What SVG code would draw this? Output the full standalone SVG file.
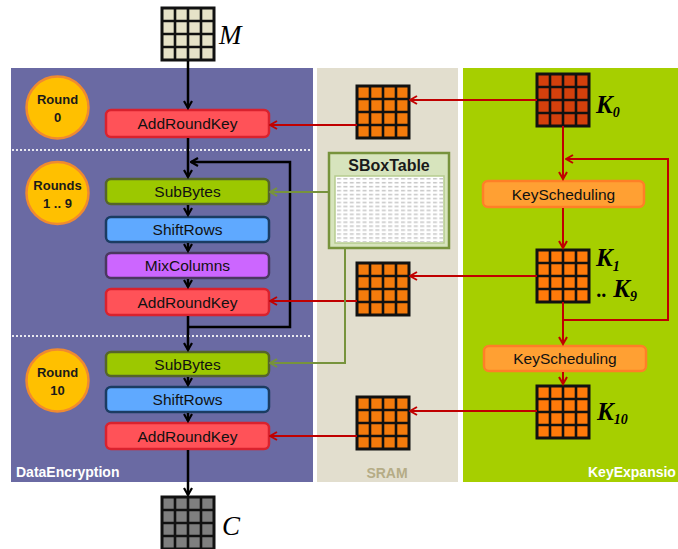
<svg xmlns="http://www.w3.org/2000/svg" width="678" height="549" viewBox="0 0 678 549">
<style>
.box{stroke-width:2.5}
.ark{fill:#FF5258;stroke:#D9222E}
.sub{fill:#9CC800;stroke:#55652A}
.shr{fill:#5FA9FF;stroke:#1B3C62}
.mix{fill:#CC66FF;stroke:#4A3860}
.ks{fill:#FFA033;stroke:#FF7F27}
.lbl{font-family:"Liberation Sans",Arial,sans-serif;font-size:15.5px;fill:#111;text-anchor:middle}
.rnd{fill:#FFC000;stroke:#F08A30;stroke-width:2.5}
.rt{font-family:"Liberation Sans",Arial,sans-serif;font-size:13px;font-weight:bold;fill:#1a1a1a;text-anchor:middle}
.blk{stroke:#000;stroke-width:2.5;fill:none}
.red{stroke:#C00000;stroke-width:2;fill:none}
.grn{stroke:#77933C;stroke-width:2;fill:none}
.dot{stroke:#E8E8F0;stroke-width:2;stroke-dasharray:2 2}
.kl{font-family:"Liberation Serif","Times New Roman",serif;font-style:italic;font-weight:bold;font-size:25px;fill:#000}
.ml{font-family:"Liberation Serif","Times New Roman",serif;font-style:italic;font-size:27px;fill:#000}
.pt{font-family:"Liberation Sans",Arial,sans-serif;font-size:14px;font-weight:bold}
</style>
<defs>
<marker id="ab" viewBox="0 0 10 10" refX="8.5" refY="5" markerWidth="10" markerHeight="10" markerUnits="userSpaceOnUse" orient="auto"><path d="M1.5,1 L8.5,5 L1.5,9" fill="none" stroke="#000" stroke-width="2.2"/></marker>
<marker id="ar" viewBox="0 0 10 10" refX="8.5" refY="5" markerWidth="10" markerHeight="10" markerUnits="userSpaceOnUse" orient="auto"><path d="M1.5,1 L8.5,5 L1.5,9" fill="none" stroke="#C00000" stroke-width="2"/></marker>
<marker id="ag" viewBox="0 0 10 10" refX="8.5" refY="5" markerWidth="10" markerHeight="10" markerUnits="userSpaceOnUse" orient="auto"><path d="M1.5,1 L8.5,5 L1.5,9" fill="none" stroke="#77933C" stroke-width="2"/></marker>
<g id="grid"><path d="M13 0V52M26 0V52M39 0V52M0 13H52M0 26H52M0 39H52" stroke="#111" stroke-width="2.6" fill="none"/><rect x="0" y="0" width="52" height="52" fill="none" stroke="#111" stroke-width="3"/></g>
<pattern id="hex" x="336" y="177" width="6.4" height="3.95" patternUnits="userSpaceOnUse"><rect x="1" y="1.2" width="4" height="1.2" fill="#B8B8B8"/></pattern>
</defs>

<g id="panels">
<rect x="11" y="68" width="302" height="414" fill="#6A6AA3"/>
<rect x="317" y="68" width="141" height="414" fill="#E2DECE"/>
<rect x="463" y="68" width="215" height="414" fill="#A6CF00"/>
<line class="dot" x1="12" y1="150" x2="312" y2="150"/>
<line class="dot" x1="12" y1="336" x2="312" y2="336"/>
<text class="pt" x="16" y="477" fill="#FFFFFF">DataEncryption</text>
<text class="pt" x="387" y="478" fill="#B5AC86" text-anchor="middle">SRAM</text>
<text class="pt" x="588" y="477" fill="#FFFFFF">KeyExpansio</text>
</g>

<g id="M">
<rect x="162" y="8" width="52" height="52" fill="#E6E2C8"/>
<use href="#grid" x="162" y="8"/>
<text class="ml" x="219" y="44">M</text>
</g>
<g id="C">
<rect x="162" y="497" width="52" height="52" fill="#7F7F7F"/>
<use href="#grid" x="162" y="497"/>
<text class="ml" x="222" y="535">C</text>
</g>

<g id="round0"><circle class="rnd" cx="57.5" cy="107.5" r="31"/><text class="rt" x="57.5" y="104">Round</text><text class="rt" x="57.5" y="122">0</text></g>
<g id="round19"><circle class="rnd" cx="57.5" cy="193" r="31"/><text class="rt" x="57.5" y="190">Rounds</text><text class="rt" x="57.5" y="208">1 .. 9</text></g>
<g id="round10"><circle class="rnd" cx="57.5" cy="380.5" r="31"/><text class="rt" x="57.5" y="377">Round</text><text class="rt" x="57.5" y="395">10</text></g>

<g id="ark0"><rect class="box ark" x="106" y="110" width="163" height="27" rx="5"/><text class="lbl" x="187.5" y="129">AddRoundKey</text></g>
<g id="sub1"><rect class="box sub" x="106" y="179" width="163" height="25" rx="5"/><text class="lbl" x="187.5" y="197">SubBytes</text></g>
<g id="shr1"><rect class="box shr" x="106" y="217" width="163" height="25" rx="5"/><text class="lbl" x="187.5" y="235">ShiftRows</text></g>
<g id="mix1"><rect class="box mix" x="106" y="253" width="163" height="25" rx="5"/><text class="lbl" x="187.5" y="271">MixColumns</text></g>
<g id="ark1"><rect class="box ark" x="106" y="289" width="163" height="26" rx="5"/><text class="lbl" x="187.5" y="307.5">AddRoundKey</text></g>
<g id="sub2"><rect class="box sub" x="106" y="352" width="163" height="24" rx="5"/><text class="lbl" x="187.5" y="369.5">SubBytes</text></g>
<g id="shr2"><rect class="box shr" x="106" y="387" width="163" height="25" rx="5"/><text class="lbl" x="187.5" y="405">ShiftRows</text></g>
<g id="ark2"><rect class="box ark" x="106" y="423" width="163" height="26" rx="5"/><text class="lbl" x="187.5" y="441.5">AddRoundKey</text></g>

<g id="sbox">
<rect x="329" y="153" width="120" height="95" fill="#D7E4BD" stroke="#77933C" stroke-width="2.5"/>
<text x="389" y="171" font-family="'Liberation Sans',Arial,sans-serif" font-size="16" font-weight="bold" fill="#1a1a1a" text-anchor="middle">SBoxTable</text>
<rect x="335" y="176" width="109" height="67" fill="#FFFFFF" stroke="#B6CC8E" stroke-width="1.5"/>
<rect x="336" y="177" width="107" height="65" fill="url(#hex)"/>
</g>

<g id="sram0"><rect x="357" y="86" width="52" height="52" fill="#F47B0C"/><use href="#grid" x="357" y="86"/></g>
<g id="sram1"><rect x="357" y="263" width="52" height="52" fill="#F47B0C"/><use href="#grid" x="357" y="263"/></g>
<g id="sram2"><rect x="357" y="397" width="52" height="52" fill="#F47B0C"/><use href="#grid" x="357" y="397"/></g>

<g id="k0"><rect x="537" y="74" width="52" height="52" fill="#D4400C"/><use href="#grid" x="537" y="74"/>
<text class="kl" x="596" y="113">K<tspan font-size="14" dy="4">0</tspan></text></g>
<g id="k1"><rect x="537" y="250" width="52" height="52" fill="#FF7A0A"/><use href="#grid" x="537" y="250"/>
<text class="kl" x="596" y="266">K<tspan font-size="14" dy="5">1</tspan></text>
<text class="kl" x="597" y="297"><tspan font-size="20">..</tspan> K<tspan font-size="14" dy="4">9</tspan></text></g>
<g id="k10"><rect x="537" y="386" width="52" height="52" fill="#FF7A0A"/><use href="#grid" x="537" y="386"/>
<text class="kl" x="597" y="420">K<tspan font-size="14" dy="4">10</tspan></text></g>

<g id="ks1"><rect class="box ks" x="483" y="181" width="161" height="26" rx="5"/><text class="lbl" x="563.5" y="199.5">KeyScheduling</text></g>
<g id="ks2"><rect class="box ks" x="484" y="346" width="162" height="25" rx="5"/><text class="lbl" x="565" y="364">KeyScheduling</text></g>

<g id="connectors">
<line class="blk" x1="188" y1="61" x2="188" y2="108" marker-end="url(#ab)"/>
<line class="blk" x1="188" y1="138" x2="188" y2="177" marker-end="url(#ab)"/>
<line class="blk" x1="188" y1="205" x2="188" y2="215" marker-end="url(#ab)"/>
<line class="blk" x1="188" y1="243" x2="188" y2="251" marker-end="url(#ab)"/>
<line class="blk" x1="188" y1="279" x2="188" y2="287" marker-end="url(#ab)"/>
<line class="blk" x1="188" y1="316" x2="188" y2="350" marker-end="url(#ab)"/>
<polyline class="blk" points="188,327 290,327 290,162 191,162" marker-end="url(#ab)"/>
<line class="blk" x1="188" y1="377" x2="188" y2="385" marker-end="url(#ab)"/>
<line class="blk" x1="188" y1="413" x2="188" y2="421" marker-end="url(#ab)"/>
<line class="blk" x1="188" y1="450" x2="188" y2="495" marker-end="url(#ab)"/>

<line class="red" x1="537" y1="100" x2="410" y2="100" marker-end="url(#ar)"/>
<line class="red" x1="357" y1="125" x2="270" y2="125" marker-end="url(#ar)"/>
<line class="red" x1="537" y1="276" x2="410" y2="276" marker-end="url(#ar)"/>
<line class="red" x1="357" y1="301" x2="270" y2="301" marker-end="url(#ar)"/>
<line class="red" x1="537" y1="411" x2="410" y2="411" marker-end="url(#ar)"/>
<line class="red" x1="357" y1="436" x2="270" y2="436" marker-end="url(#ar)"/>

<line class="red" x1="563" y1="126" x2="563" y2="179" marker-end="url(#ar)"/>
<line class="red" x1="563" y1="208" x2="563" y2="248" marker-end="url(#ar)"/>
<polyline class="red" points="563,320 668,320 668,159 566,159" marker-end="url(#ar)"/>
<line class="red" x1="563" y1="302" x2="563" y2="344" marker-end="url(#ar)"/>
<line class="red" x1="563" y1="372" x2="563" y2="384" marker-end="url(#ar)"/>

<line class="grn" x1="329" y1="192" x2="270" y2="192" marker-end="url(#ag)"/>
<polyline class="grn" points="345,249 345,363 270,363" marker-end="url(#ag)"/>
</g>
</svg>
